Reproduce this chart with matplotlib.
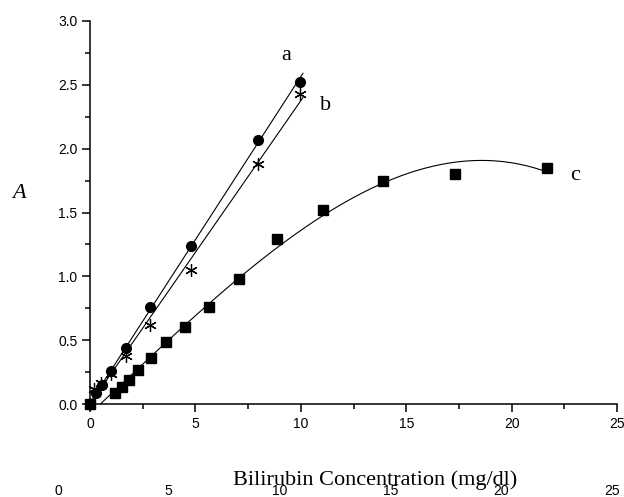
import numpy as np
import matplotlib
matplotlib.use("Agg")
import matplotlib.pyplot as plt

# series a (circles)
conc_a = [0, 0.3, 0.55, 1.0, 1.7, 2.85, 4.8, 7.95, 9.95]
abs_a = [0, 0.09, 0.15, 0.26, 0.44, 0.76, 1.24, 2.07, 2.52]
# series b (asterisks)
conc_b = [0, 0.2, 0.5, 1.0, 1.7, 2.85, 4.8, 7.95, 9.95]
abs_b = [0, 0.12, 0.17, 0.24, 0.38, 0.62, 1.05, 1.88, 2.43]
# series c (squares)
conc_c = [0, 1.19, 1.5, 1.85, 2.29, 2.9, 3.6, 4.5, 5.66, 7.07, 8.86, 11.07, 13.88, 17.3, 21.67]
abs_c = [0, 0.086, 0.138, 0.19, 0.268, 0.364, 0.484, 0.606, 0.76, 0.98, 1.29, 1.52, 1.75, 1.80, 1.85]

xticks = [0, 5, 10, 15, 20, 25]
yticks = [0.0, 0.5, 1.0, 1.5, 2.0, 2.5, 3.0]

plt.rcParams["font.family"] = ["Liberation Sans", "DejaVu Sans"]
W, H = 624, 497
fig = plt.figure(figsize=(W / 100, H / 100), dpi=100)
x0, x1, yb, yt = 90, 617, 404.3, 20.7
ax = fig.add_axes([x0 / W, 1 - yb / H, (x1 - x0) / W, (yb - yt) / H])

# linear fits for a and b
pa = np.polyfit(conc_a, abs_a, 1)
pb = np.polyfit(conc_b, abs_b, 1)
xl = np.linspace(0, 10.1, 50)
ax.plot(xl, np.polyval(pa, xl), color="black", lw=0.8)
ax.plot(xl, np.polyval(pb, xl), color="black", lw=0.8)

# polynomial fit for c
pc = np.polyfit(conc_c, abs_c, 3)
xc = np.linspace(0, 21.7, 300)
yc = np.polyval(pc, xc)
m = yc >= 0
ax.plot(xc[m], yc[m], color="black", lw=0.8)

ax.plot(conc_a, abs_a, "o", color="black", ms=7, ls="none")
ax.plot(conc_b, abs_b, marker=(6, 2, 0), color="black", ms=9, mew=0.9, ls="none")
ax.plot(conc_c, abs_c, "s", color="black", ms=7, ls="none")

ax.text(9.33, 2.73, "a", family="Liberation Serif", fontsize=16, ha="center", va="center")
ax.text(11.18, 2.34, "b", family="Liberation Serif", fontsize=16, ha="center", va="center")
ax.text(23.0, 1.79, "c", family="Liberation Serif", fontsize=16, ha="center", va="center")

ax.set_xlim(0, 25)
ax.set_ylim(0, 3.0)
ax.set_xticks(xticks)
ax.set_yticks(yticks)
ax.set_xticks(np.arange(2.5, 25, 5), minor=True)
ax.set_yticks(np.arange(0.25, 3.0, 0.5), minor=True)
ax.tick_params(which="major", direction="out", length=6, width=1.1, labelsize=10, pad=3)
ax.tick_params(which="minor", direction="out", length=3.5, width=1.1)
for s in ["top", "right"]:
    ax.spines[s].set_visible(False)
for s in ["left", "bottom"]:
    ax.spines[s].set_linewidth(1.1)
for ln in ax.lines:
    ln.set_clip_on(False)

ax.set_xlabel("Bilirubin Concentration (mg/dl)", family="Liberation Serif", fontsize=16)
ax.xaxis.set_label_coords((375 - x0) / (x1 - x0), (yb - 480) / (yb - yt))
ax.xaxis.label.set_va("center")
ax.set_ylabel("A", family="Liberation Serif", fontsize=16, style="italic", rotation=0)
ax.yaxis.set_label_coords((19 - x0) / (x1 - x0), (yb - 193) / (yb - yt))
ax.yaxis.label.set_va("center")

# stray second row of tick labels
ax2 = fig.add_axes([58 / W, 1 - 481 / H, (612 - 58) / W, 0.0001])
ax2.set_xlim(0, 25)
ax2.set_xticks(xticks)
ax2.set_yticks([])
ax2.tick_params(axis="x", length=0, labelsize=10, pad=2)
for s in ax2.spines.values():
    s.set_visible(False)
ax2.patch.set_visible(False)

fig.savefig("out.png", dpi=100)
